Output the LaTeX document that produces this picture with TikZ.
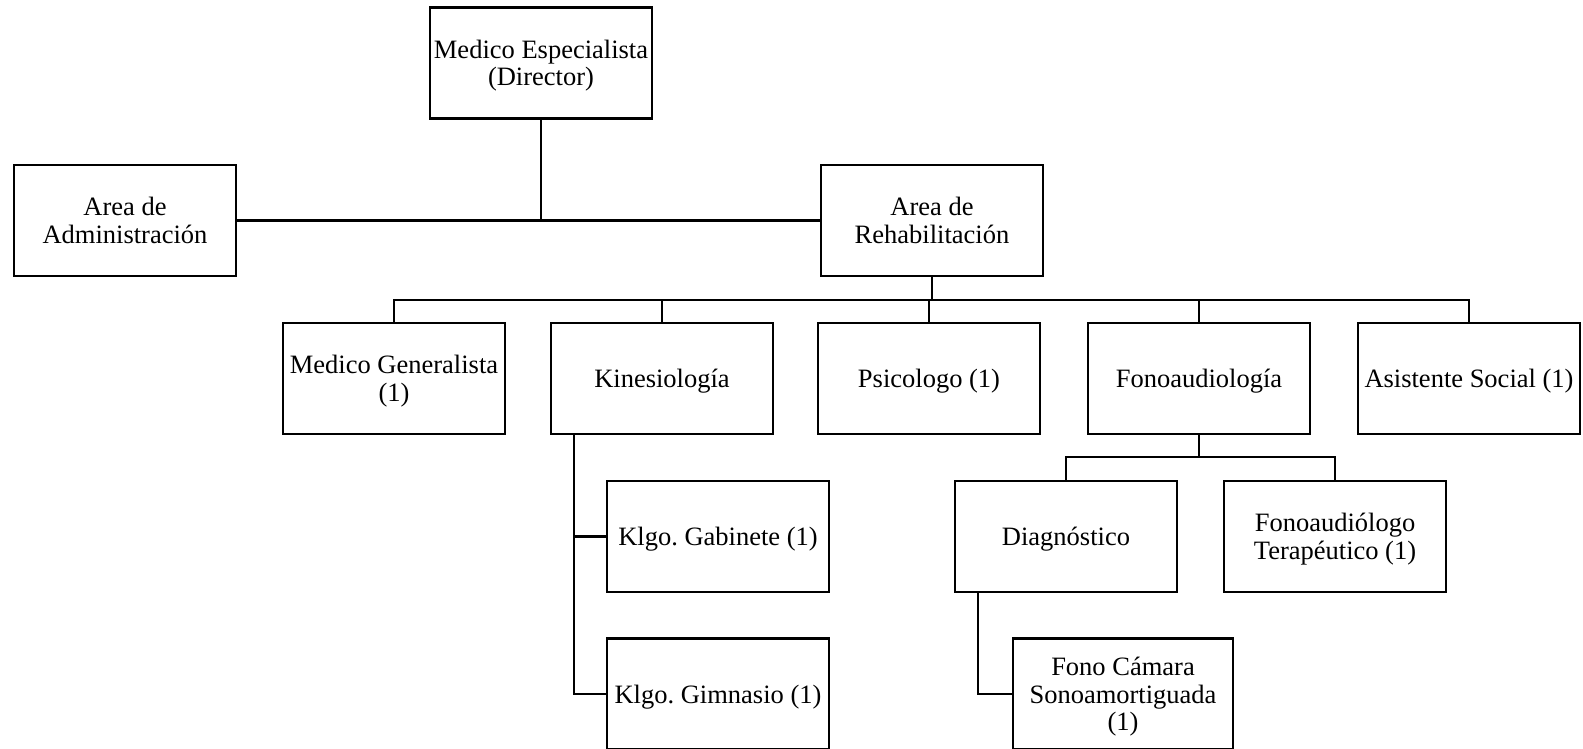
\documentclass[tikz,border=0pt]{standalone}
\usepackage{fontspec}
\setmainfont{Liberation Serif}
\frenchspacing
\begin{document}
\begin{tikzpicture}[x=1pt,y=-1pt,
  box/.style={draw=black,line width=2.8pt,rectangle,minimum width=222pt,minimum height=111pt,
    inner sep=0pt,align=center,text depth=0pt,font=\fontsize{26.5}{27.5}\selectfont},
  conn/.style={draw=black,line width=2.8pt}]
\useasboundingbox[fill=white] (0,0) rectangle (1583,748);
\node[box] (dir) at (541,63) {Medico Especialista\\(Director)};
\node[box] (adm) at (125,220.5) {Area de\\Administración};
\node[box] (reh) at (932,220.5) {Area de\\Rehabilitación};
\node[box] (mg) at (394,378.5) {Medico Generalista\\(1)};
\node[box] (kin) at (662,378.5) {Kinesiología};
\node[box] (psi) at (929,378.5) {Psicologo (1)};
\node[box] (fon) at (1199,378.5) {Fonoaudiología};
\node[box] (asi) at (1469,378.5) {Asistente Social (1)};
\node[box] (gab) at (718,536.5) {Klgo. Gabinete (1)};
\node[box] (gim) at (718,694) {Klgo. Gimnasio (1)};
\node[box] (dia) at (1066,536.5) {Diagnóstico};
\node[box] (ter) at (1335,536.5) {Fonoaudiólogo\\Terapéutico (1)};
\node[box,minimum width=220pt] (cam) at (1123,694) {Fono Cámara\\Sonoamortiguada\\(1)};
\coordinate (bus) at (0,300);
\coordinate (fbus) at (0,457);
\coordinate (kx) at (574,0);
\coordinate (dx) at (978,0);
% top level
\draw[conn] (adm.east) -- (reh.west);
\draw[conn] (dir.south) -- (dir.south |- adm.east);
% rehab bus
\draw[conn] (reh.south) -- (reh.south |- bus);
\draw[conn] (mg.north) -- (mg.north |- bus) -- (asi.north |- bus) -- (asi.north);
\draw[conn] (kin.north) -- (kin.north |- bus);
\draw[conn] (psi.north) -- (psi.north |- bus);
\draw[conn] (fon.north) -- (fon.north |- bus);
% kinesiologia
\draw[conn] (kin.south -| kx) -- (gim.west -| kx) -- (gim.west);
\draw[conn] (gab.west -| kx) -- (gab.west);
% fonoaudiologia
\draw[conn] (fon.south) -- (fon.south |- fbus);
\draw[conn] (dia.north) -- (dia.north |- fbus) -- (ter.north |- fbus) -- (ter.north);
% diagnostico
\draw[conn] (dia.south -| dx) -- (cam.west -| dx) -- (cam.west);
\end{tikzpicture}
\end{document}
